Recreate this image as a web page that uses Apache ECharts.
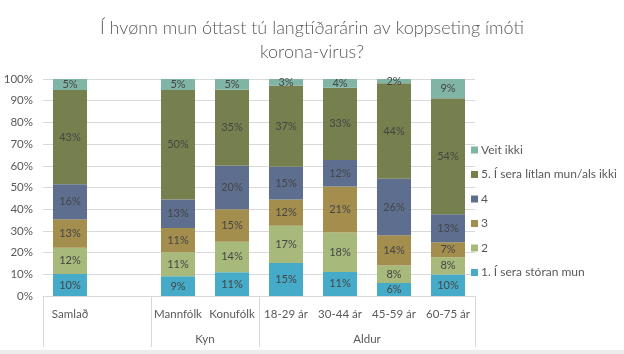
<!DOCTYPE html>
<html>
<head>
<meta charset="utf-8">
<script src="https://cdn.jsdelivr.net/npm/echarts@6/dist/echarts.min.js"></script>
<style>
  html, body { margin: 0; padding: 0; background: #ececec; }
  #chart { width: 624px; height: 350px; background: #fff; }
</style>
</head>
<body>
<div id="chart"></div>
<script>
// categories (one empty slot after Samlað, like the source chart)
var categories = ['Samlað', '', 'Mannfólk', 'Konufólk', '18-29 ár', '30-44 ár', '45-59 ár', '60-75 ár'];
var groupLabels = ['Kyn', 'Aldur'];
var groupCenters = [3, 6];       // in category slots
var groupBounds = [0, 2, 4, 8];  // separator positions, in category slots

var seriesNames = ['1. Í sera stóran mun', '2', '3', '4', '5. Í sera lítlan mun/als ikki', 'Veit ikki'];
var seriesColors = ['#46abc8', '#a7ba7c', '#a38e4e', '#5d6e8f', '#76804f', '#80b5a5'];

var v1 = [10, null, 9, 11, 15, 11, 6, 10];
var v2 = [12, null, 11, 14, 17, 18, 8, 8];
var v3 = [13, null, 11, 15, 12, 21, 14, 7];
var v4 = [16, null, 13, 20, 15, 12, 26, 13];
var v5 = [43, null, 50, 35, 37, 33, 44, 54];
var vVeit = [5, null, 5, 5, 3, 4, 2, 9];

var yTicks = [0, 10, 20, 30, 40, 50, 60, 70, 80, 90, 100];

var raw = [v1, v2, v3, v4, v5, vVeit];

// 100% stacked: scale each column to its total
var totals = categories.map(function (c, i) {
    var s = 0;
    raw.forEach(function (arr) { s += arr[i] || 0; });
    return s;
});

var textCol = '#595959';
var font = 'Lato';

var series = raw.map(function (arr, k) {
    return {
        name: seriesNames[k],
        type: 'bar',
        stack: 'all',
        barWidth: '63%',
        xAxisIndex: 0,
        itemStyle: { color: seriesColors[k] },
        label: {
            show: true,
            position: 'inside',
            color: '#454545',
            fontFamily: font,
            fontSize: 11,
            formatter: function (p) { return arr[p.dataIndex] + '%'; }
        },
        data: arr.map(function (v, i) {
            return v == null ? null : v / totals[i] * 100;
        })
    };
});

var chart = echarts.init(document.getElementById('chart'));
chart.setOption({
    animation: false,
    textStyle: { fontFamily: font },
    title: {
        text: 'Í hvønn mun óttast tú langtíðarárin av koppseting ímóti\nkorona-virus?',
        left: 'center',
        top: 11,
        textStyle: { fontFamily: font, fontSize: 18, fontWeight: 300, color: '#5a5a5a', lineHeight: 24 }
    },
    legend: {
        orient: 'vertical',
        left: 466,
        top: 138,
        itemWidth: 7,
        itemHeight: 7,
        itemGap: 10.5,
        icon: 'rect',
        data: seriesNames.slice().reverse(),
        textStyle: { fontFamily: font, fontSize: 12, color: textCol, lineHeight: 14, padding: [0, 0, 0, -2] }
    },
    grid: { left: 43, right: 149, top: 79, bottom: 54 },
    xAxis: [{
        type: 'category',
        data: categories,
        position: 'bottom',
        axisLine: { lineStyle: { color: '#d9d9d9' } },
        axisTick: { show: false },
        axisLabel: { color: textCol, fontSize: 11.5, margin: 12, interval: 0 }
    }, {
        type: 'value',
        position: 'bottom',
        min: 0,
        max: categories.length,
        axisLine: { show: false },
        splitLine: { show: false },
        axisTick: {
            show: true,
            length: 51,
            customValues: groupBounds,
            lineStyle: { color: '#d9d9d9' }
        },
        axisLabel: {
            customValues: groupCenters,
            margin: 37,
            color: textCol,
            fontSize: 11.5,
            formatter: function (v) {
                var i = groupCenters.indexOf(v);
                return i < 0 ? '' : groupLabels[i];
            }
        }
    }],
    yAxis: {
        type: 'value',
        min: 0,
        max: 100,
        interval: 10,
        axisLine: { show: false },
        axisTick: { show: false },
        splitLine: { lineStyle: { color: '#d9d9d9' } },
        axisLabel: {
            color: textCol,
            fontSize: 11.5,
            margin: 10,
            customValues: yTicks,
            formatter: '{value}%'
        }
    },
    series: series
});
</script>
</body>
</html>
